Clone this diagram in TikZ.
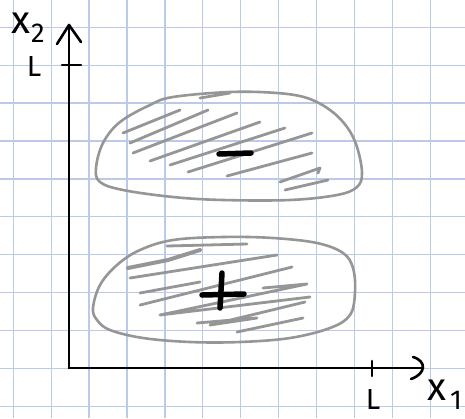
\documentclass[tikz,border=0pt]{standalone}
\usepackage{fontspec}
\setmainfont{Fira Sans}
\usetikzlibrary{arrows.meta}
\definecolor{gridblue}{RGB}{186,202,232}
\definecolor{blobgray}{RGB}{150,150,150}
\tikzset{
  gridline/.style={gridblue, line width=1.3pt},
  axisline/.style={black, line width=2.6pt, line cap=round, line join=round},
  outline/.style={blobgray, line width=2.6pt},
  hatch/.style={blobgray, line width=2.8pt, line cap=round, line join=round},
  signline/.style={black, line width=5.5pt, line cap=round},
  lab/.style={font=\fontsize{39}{39}\selectfont, inner sep=0pt},
  labL/.style={font=\fontsize{29}{29}\selectfont, inner sep=0pt},
}
\begin{document}
\begin{tikzpicture}[x=1pt,y=-1pt]
\useasboundingbox (0,0) rectangle (465,418);
\fill[white] (0,0) rectangle (465,418);
% grid
\foreach \i in {0,...,11} { \draw[gridline] ({13.3+37.9*\i},0) -- ({13.3+37.9*\i},418); }
\foreach \j in {0,...,10} { \draw[gridline] (0,{27.3+37.9*\j}) -- (465,{27.3+37.9*\j}); }

% axes
\coordinate (O) at (69,368);
\coordinate (ytip) at (69,25);
\coordinate (xtip) at (423,368);
\coordinate (ya1) at (57,44);
\coordinate (ya2) at (81,42);
\coordinate (xa1) at (413,357);
\coordinate (xa2) at (411,379);
\draw[axisline] (O) -- (ytip);
\draw[axisline] (O) -- (xtip);
\draw[axisline] (ya1) -- (ytip) -- (ya2);
\draw[axisline] (xa1) .. controls (427,361) and (426,374) .. (xa2);
% ticks
\coordinate (yt1) at (62,65);
\coordinate (yt2) at (81,65);
\coordinate (xt1) at (372,361);
\coordinate (xt2) at (372,376);
\draw[axisline] (yt1) -- (yt2);
\draw[axisline] (xt1) -- (xt2);

% labels
\node[lab, anchor=base west] (x2lab) at (11,33) {x\kern1pt\textsubscript{2}};
\node[labL, anchor=base] (yL) at (34,76) {L};
\node[labL, anchor=base] (xL) at (373,409) {L};
\node[lab, anchor=base west] (x1lab) at (427,400) {x\kern4pt\textsubscript{1}};

% upper blob
\draw[outline] plot[smooth cycle, tension=0.6] coordinates {
  (96,168) (103,143) (120,122) (150,105) (173,97) (230,92) (277,93) (307,98)
  (330,110) (347,127) (357,147) (362,173) (357,187) (337,195) (290,200)
  (223,200) (173,197) (123,190) (100,182)};
% upper hatch
\draw[hatch] (123,133) -- (180,110);
\draw[hatch] (130,143) -- (208,110);
\draw[hatch] (133,153) -- (237,113);
\draw[hatch] (150,161) -- (260,122);
\draw[hatch] (170,165) -- (285,128);
\draw[hatch] (188,172) -- (312,133);
\draw[hatch] (227,176) -- (312,153);
\draw[hatch] (280,182) -- (320,168) -- (318,173);
\draw[hatch] (285,190) -- (328,180);
\draw[hatch] (200,98) -- (230,93);
% minus
\coordinate (m1) at (219,154);
\coordinate (m2) at (251,153);
\draw[signline] (m1) -- (m2);

% lower blob
\draw[outline] plot[smooth cycle, tension=0.6] coordinates {
  (93,308) (100,285) (117,265) (140,250) (173,240) (223,237) (273,238)
  (317,243) (343,253) (353,268) (355,292) (350,315) (330,328) (290,338)
  (240,342) (190,342) (143,338) (110,330) (97,320)};
% lower hatch
\draw[hatch, line width=4pt] (128,268) -- (168,260) -- (200,250);
\draw[hatch] (167,246) -- (247,244);
\draw[hatch] (130,278) -- (277,255);
\draw[hatch] (140,293) -- (200,282);
\draw[hatch] (140,305) -- (292,267);
\draw[hatch] (263,288) -- (307,284) -- (160,315) -- (310,297);
\draw[hatch] (197,323) -- (257,318) -- (210,325) -- (305,302);
\draw[hatch] (237,332) -- (303,318);
% plus
\coordinate (ph1) at (202,295);
\coordinate (ph2) at (244,294);
\coordinate (pv1) at (222,273);
\coordinate (pv2) at (220,308);
\draw[signline] (ph1) -- (ph2);
\draw[signline] (pv1) -- (pv2);
\end{tikzpicture}
\end{document}
